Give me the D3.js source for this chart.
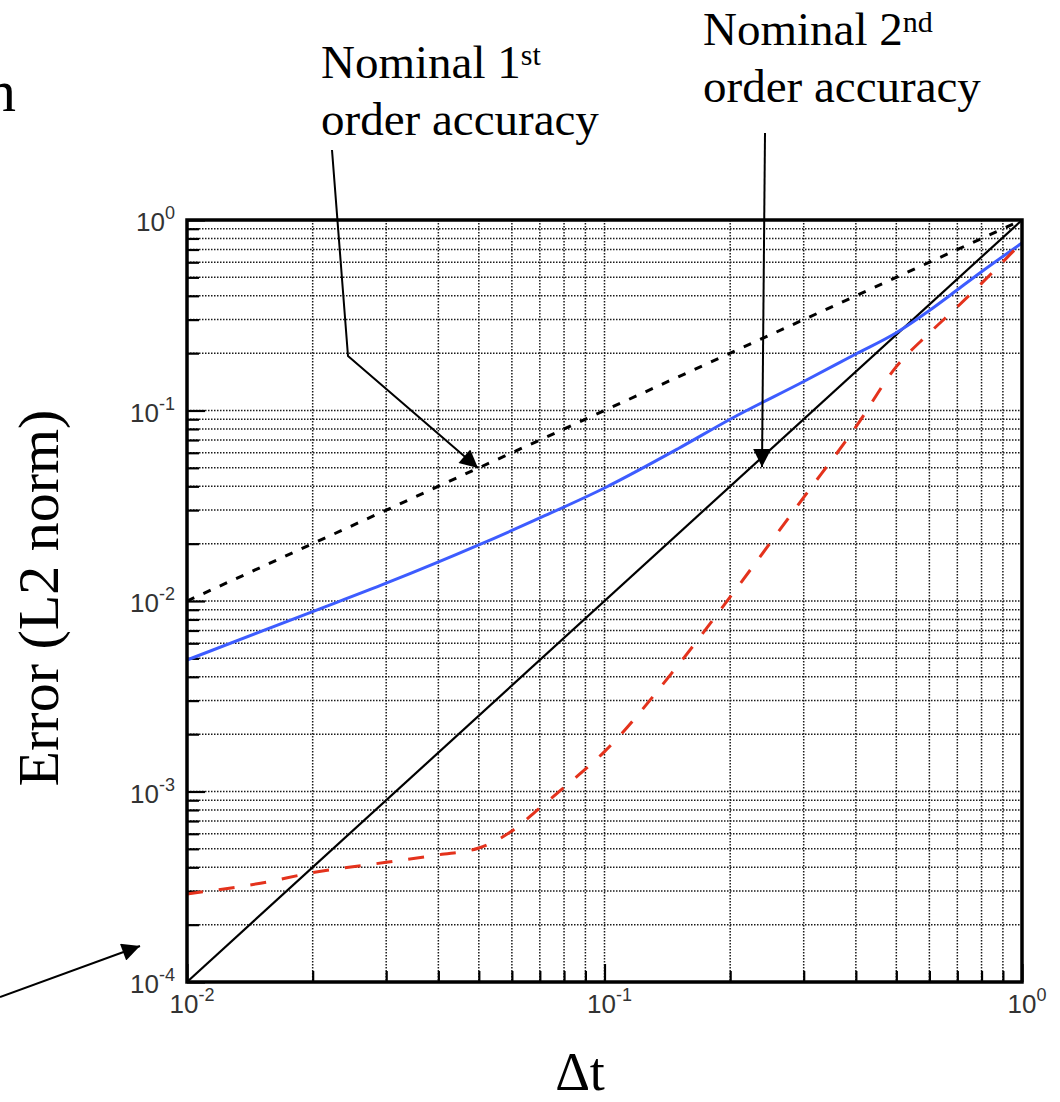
<!DOCTYPE html>
<html>
<head>
<meta charset="utf-8">
<script src="https://cdn.jsdelivr.net/npm/d3@7"></script>
<style>
  html, body { margin: 0; padding: 0; background: #fff; }
  svg { display: block; }
</style>
</head>
<body>
<svg id="chart" width="1060" height="1102"></svg>
<script>
// ---------- data ----------
const xDomain = [0.01, 1];
const yDomain = [1e-4, 1];

// nominal 1st order reference line (dashed black)
const firstDt  = [0.01, 1];
const firstErr = [0.01, 1];

// nominal 2nd order reference line (solid black)
const secondDt  = [0.01, 1];
const secondErr = [1e-4, 1];

// blue solid series
const blueDt  = [0.01, 0.02, 0.03, 0.05, 0.07, 0.1, 0.15, 0.2, 0.3, 0.4, 0.5, 0.6, 0.7, 0.8, 1.0];
const blueErr = [0.0049, 0.0088, 0.0124, 0.0197, 0.0273, 0.0392, 0.063, 0.09, 0.142, 0.198, 0.256, 0.335, 0.43, 0.535, 0.757];

// red dashed series
const redDt  = [0.01, 0.015, 0.02, 0.03, 0.04, 0.05, 0.06, 0.07, 0.08, 0.1, 0.15, 0.2, 0.3, 0.4, 0.5, 0.6, 0.7, 0.8, 1.0];
const redErr = [2.9e-4, 3.3e-4, 3.75e-4, 4.25e-4, 4.65e-4, 5.05e-4, 6.2e-4, 8.2e-4, 1.05e-3, 1.62e-3, 4.6e-3, 0.0105, 0.035, 0.082, 0.17, 0.255, 0.35, 0.465, 0.765];

// tick labels
const xMajorTicks = [0.01, 0.1, 1];
const xTickExp    = ["-2", "-1", "0"];
const yMajorTicks = [1e-4, 1e-3, 1e-2, 1e-1, 1];
const yTickExp    = ["-4", "-3", "-2", "-1", "0"];

// text
const yTitle = "Error (L2 norm)";
const xTitle = "\u0394t";
const note1 = ["Nominal 1", "st", "order accuracy"];
const note2 = ["Nominal 2", "nd", "order accuracy"];

// ---------- layout ----------
const L = 187, R = 1022, T = 220, B = 982;
const svg = d3.select("#chart");

const x = d3.scaleLog().domain(xDomain).range([L, R]);
const y = d3.scaleLog().domain(yDomain).range([B, T]);

const allX = x.ticks();
const allY = y.ticks();
const isMajor = v => Math.abs(Math.log10(v) - Math.round(Math.log10(v))) < 1e-9;

// gridlines (dotted)
const grid = svg.append("g").attr("stroke", "#1a1a1a").attr("stroke-width", 1.5)
  .attr("stroke-dasharray", "1.5,1.5").attr("fill", "none");
grid.selectAll("line.vx").data(allX.filter(v => v > xDomain[0] * 1.0001 && v < xDomain[1] * 0.9999))
  .join("line").attr("x1", d => x(d)).attr("x2", d => x(d)).attr("y1", T).attr("y2", B);
grid.selectAll("line.hy").data(allY.filter(v => v > yDomain[0] * 1.0001 && v < yDomain[1] * 0.9999))
  .join("line").attr("y1", d => y(d)).attr("y2", d => y(d)).attr("x1", L).attr("x2", R);

// axis ticks (inward)
const minorX = allX.filter(v => !isMajor(v));
const minorY = allY.filter(v => !isMajor(v));
const tickStyle = g => { g.select(".domain").remove(); g.selectAll("line").attr("stroke", "#000").attr("stroke-width", 2.2); };
svg.append("g").attr("transform", `translate(0,${B})`)
  .call(d3.axisBottom(x).tickValues(minorX).tickSizeInner(-11).tickSizeOuter(0).tickFormat(""))
  .call(tickStyle);
svg.append("g").attr("transform", `translate(0,${B})`)
  .call(d3.axisBottom(x).tickValues(xMajorTicks).tickSizeInner(-18).tickSizeOuter(0).tickFormat(""))
  .call(tickStyle);
svg.append("g").attr("transform", `translate(${L},0)`)
  .call(d3.axisLeft(y).tickValues(minorY).tickSizeInner(-12).tickSizeOuter(0).tickFormat(""))
  .call(tickStyle);
svg.append("g").attr("transform", `translate(${L},0)`)
  .call(d3.axisLeft(y).tickValues(yMajorTicks).tickSizeInner(-18).tickSizeOuter(0).tickFormat(""))
  .call(tickStyle);

// series
const mk = (xs, ys) => xs.map((d, i) => [d, ys[i]]);
const line = d3.line().x(d => x(d[0])).y(d => y(d[1])).curve(d3.curveMonotoneX);
const plot = svg.append("g");
plot.append("path").datum(mk(secondDt, secondErr)).attr("d", line)
  .attr("fill", "none").attr("stroke", "#000").attr("stroke-width", 2.2);
plot.append("path").datum(mk(firstDt, firstErr)).attr("d", line)
  .attr("fill", "none").attr("stroke", "#000").attr("stroke-width", 3).attr("stroke-dasharray", "8,10");
plot.append("path").datum(mk(blueDt, blueErr)).attr("d", line)
  .attr("fill", "none").attr("stroke", "#3d5cff").attr("stroke-width", 3);
plot.append("path").datum(mk(redDt, redErr)).attr("d", line)
  .attr("fill", "none").attr("stroke", "#e4321c").attr("stroke-width", 3).attr("stroke-dasharray", "16,16");

// frame
svg.append("rect").attr("x", L).attr("y", T).attr("width", R - L).attr("height", B - T)
  .attr("fill", "none").attr("stroke", "#000").attr("stroke-width", 3.5);

// tick labels
const tickFont = "'Liberation Sans', Arial, sans-serif";
const yl = svg.append("g").attr("font-family", tickFont).attr("fill", "#333");
yMajorTicks.forEach((v, i) => {
  const t = yl.append("text").attr("x", L - 12).attr("y", y(v) + 11).attr("text-anchor", "end").attr("font-size", 26);
  t.append("tspan").text("10");
  t.append("tspan").attr("dy", -12).attr("font-size", 18).text(yTickExp[i]);
});
const xl = svg.append("g").attr("font-family", tickFont).attr("fill", "#333");
xMajorTicks.forEach((v, i) => {
  const t = xl.append("text").attr("x", x(v) + 5).attr("y", B + 31).attr("text-anchor", "middle").attr("font-size", 26);
  t.append("tspan").text("10");
  t.append("tspan").attr("dy", -12).attr("font-size", 18).text(xTickExp[i]);
});

// titles
const serif = "'Liberation Serif', 'Times New Roman', serif";
svg.append("text").attr("transform", "translate(58,598) rotate(-90)").attr("text-anchor", "middle")
  .attr("font-family", serif).attr("font-size", 58).attr("fill", "#000").text(yTitle);
svg.append("text").attr("x", 580).attr("y", 1090).attr("text-anchor", "middle")
  .attr("font-family", serif).attr("font-size", 54).attr("fill", "#000").text(xTitle);

// cut-off word at top-left
svg.append("text").attr("x", 16).attr("y", 111).attr("text-anchor", "end")
  .attr("font-family", serif).attr("font-size", 60).attr("fill", "#000").text("n");

// annotations
function note(lines, x0, y0, y1) {
  const g = svg.append("g").attr("font-family", serif).attr("fill", "#000").attr("font-size", 47);
  const t = g.append("text").attr("x", x0).attr("y", y0);
  t.append("tspan").text(lines[0]);
  t.append("tspan").attr("dy", -13).attr("font-size", 30).text(lines[1]);
  g.append("text").attr("x", x0).attr("y", y1).text(lines[2]);
}
note(note1, 321, 78, 135);
note(note2, 703, 45, 102);

// arrows
svg.append("defs").append("marker").attr("id", "ah").attr("viewBox", "0 0 10 10")
  .attr("refX", 10).attr("refY", 5).attr("markerUnits", "userSpaceOnUse")
  .attr("markerWidth", 24).attr("markerHeight", 18).attr("orient", "auto")
  .append("path").attr("d", "M0,0 L10,5 L0,10 Z").attr("fill", "#000");
const arrows = [
  [[332, 150], [348, 356], [478, 468]],
  [[765, 133], [762, 467]],
  [[0, 997], [140, 946]]
];
arrows.forEach(pts => {
  svg.append("path").attr("d", d3.line()(pts)).attr("fill", "none")
    .attr("stroke", "#000").attr("stroke-width", 2).attr("marker-end", "url(#ah)");
});
</script>
</body>
</html>
